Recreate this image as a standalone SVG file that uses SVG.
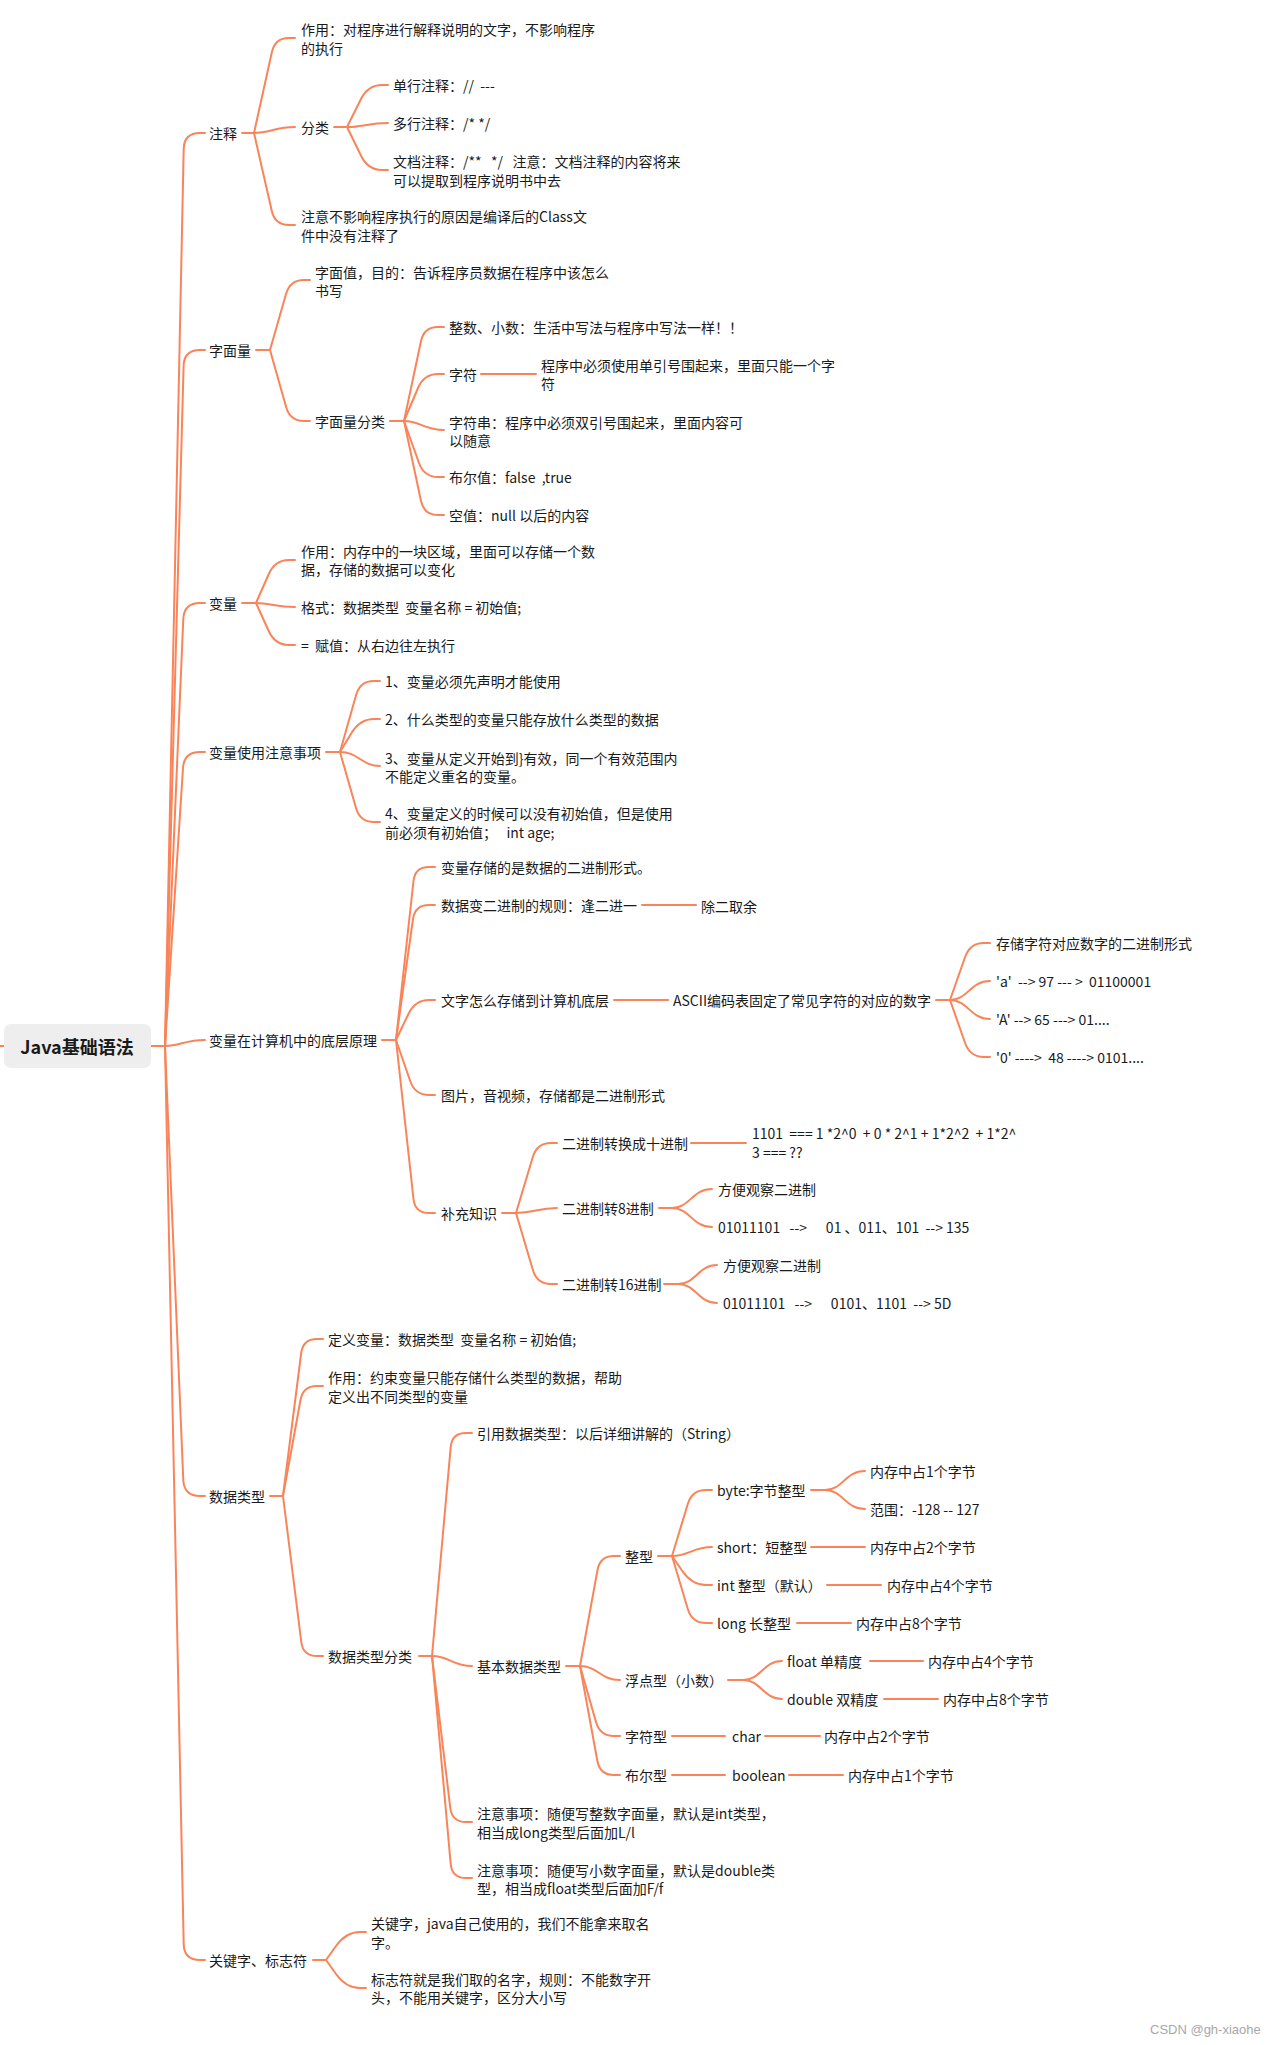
<svg xmlns="http://www.w3.org/2000/svg" width="1283" height="2045" viewBox="0 0 1283 2045">
<style>
.c{fill:none;stroke:#FA8459;stroke-width:2;stroke-linecap:round;stroke-linejoin:round}
text{font-family:"Noto Sans CJK SC","Microsoft YaHei",sans-serif;font-size:14px;fill:#1a1a1a;dominant-baseline:central;white-space:pre}
.root{font-size:18px;font-weight:bold;text-anchor:middle}
.wm{font-family:"Liberation Sans",Arial,sans-serif;font-size:13px;fill:#a8a8a8}
</style>
<rect width="1283" height="2045" fill="#ffffff"/>
<g id="connectors">
<path class="c" d="M0,1046 L4,1046 M151,1046 L165,1046"/>
<path class="c" d="M165,1046 L183.7,149 Q184,133 200,133 L205,133"/>
<path class="c" d="M165,1046 L183.6,366 Q184,350 200,350 L205,350"/>
<path class="c" d="M165,1046 L183.3,619 Q184,603 200,603 L205,603"/>
<path class="c" d="M165,1046 L183,768 Q184,752 200,752 L205,752"/>
<path class="c" d="M165,1046 C180,1046 185,1040 205,1040"/>
<path class="c" d="M165,1046 L183.3,1480 Q184,1496 200,1496 L205,1496"/>
<path class="c" d="M165,1046 L183.7,1944 Q184,1960 200,1960 L205,1960"/>
<!-- 注释 -->
<path class="c" d="M242,133 L254,133"/>
<path class="c" d="M254,133 L271.9,52 Q275,38 289,38 L295,38"/>
<path class="c" d="M254,133 C270,133 275,127 295,127"/>
<path class="c" d="M254,133 L271.8,211 Q275,225 289,225 L295,225"/>
<path class="c" d="M334,127 L347,127"/>
<path class="c" d="M347,127 L361,99 Q368,85 382,85 L388,85"/>
<path class="c" d="M347,127 C363,127 368,123 388,123"/>
<path class="c" d="M347,127 L361.2,156 Q368,170 382,170 L388,170"/>
<!-- 字面量 -->
<path class="c" d="M256,350 L270,350"/>
<path class="c" d="M270,350 L286,294 Q290,280 304,280 L310,280"/>
<path class="c" d="M270,350 L286.1,407 Q290,421 304,421 L310,421"/>
<path class="c" d="M390,421 L404,421"/>
<path class="c" d="M404,421 L421,341 Q424,327 438,327 L444,327"/>
<path class="c" d="M404,421 L418,388 Q424,374 438,374 L444,374"/>
<path class="c" d="M404,421 C420,421 424,430 444,430"/>
<path class="c" d="M404,421 L419,463 Q424,477 438,477 L444,477"/>
<path class="c" d="M404,421 L421,501 Q424,515 438,515 L444,515"/>
<path class="c" d="M481,374 L536,374"/>
<!-- 变量 -->
<path class="c" d="M242,603 L256,603"/>
<path class="c" d="M256,603 L268.8,574 Q275,560 289,560 L295,560"/>
<path class="c" d="M256,603 C270,603 275,607 295,607"/>
<path class="c" d="M256,603 L268.7,631 Q275,645 289,645 L295,645"/>
<!-- 变量使用注意事项 -->
<path class="c" d="M326,752 L340,752"/>
<path class="c" d="M340,752 L356.1,695 Q360,681 374,681 L380,681"/>
<path class="c" d="M340,752 L351.5,733 Q360,719 374,719 L380,719"/>
<path class="c" d="M340,752 C358,752 362,766 380,766"/>
<path class="c" d="M340,752 L356,808 Q360,822 374,822 L380,822"/>
<!-- 底层原理 -->
<path class="c" d="M382,1040 L396,1040"/>
<path class="c" d="M396,1040 L413.5,881 Q415,867 429,867 L435,867"/>
<path class="c" d="M396,1040 L413,919 Q415,905 429,905 L435,905"/>
<path class="c" d="M396,1040 L408.4,1014 Q415,1000 429,1000 L435,1000"/>
<path class="c" d="M396,1040 L410.2,1081 Q415,1095 429,1095 L435,1095"/>
<path class="c" d="M396,1040 L413.5,1199 Q415,1213 429,1213 L435,1213"/>
<path class="c" d="M642,905 L696,905"/>
<path class="c" d="M614,1000 L668,1000"/>
<path class="c" d="M936,1000 L950,1000"/>
<path class="c" d="M950,1000 L965.1,957 Q970,943 984,943 L990,943"/>
<path class="c" d="M950,1000 C968,1000 970,981 990,981"/>
<path class="c" d="M950,1000 C968,1000 970,1019 990,1019"/>
<path class="c" d="M950,1000 L965.1,1043 Q970,1057 984,1057 L990,1057"/>
<path class="c" d="M502,1213 L516,1213"/>
<path class="c" d="M516,1213 L532.8,1157 Q537,1143 551,1143 L557,1143"/>
<path class="c" d="M516,1213 C535,1213 537,1208 557,1208"/>
<path class="c" d="M516,1213 L532.9,1270 Q537,1284 551,1284 L557,1284"/>
<path class="c" d="M691,1143 L746,1143"/>
<path class="c" d="M659,1208 L672,1208"/>
<path class="c" d="M672,1208 C690,1208 692,1189 712,1189"/>
<path class="c" d="M672,1208 C690,1208 692,1227 712,1227"/>
<path class="c" d="M664,1284 L678,1284"/>
<path class="c" d="M678,1284 C696,1284 698,1265 717,1265"/>
<path class="c" d="M678,1284 C696,1284 698,1303 717,1303"/>
<!-- 数据类型 -->
<path class="c" d="M270,1496 L283,1496"/>
<path class="c" d="M283,1496 L301.2,1353 Q303,1339 317,1339 L323,1339"/>
<path class="c" d="M283,1496 L300.5,1400 Q303,1386 317,1386 L323,1386"/>
<path class="c" d="M283,1496 L301.3,1642 Q303,1656 317,1656 L323,1656"/>
<path class="c" d="M419,1656 L432,1656"/>
<path class="c" d="M432,1656 L450.7,1447 Q452,1433 466,1433 L472,1433"/>
<path class="c" d="M432,1656 C450,1656 452,1666 472,1666"/>
<path class="c" d="M432,1656 L450.3,1808 Q452,1822 466,1822 L472,1822"/>
<path class="c" d="M432,1656 L450.7,1864 Q452,1878 466,1878 L472,1878"/>
<path class="c" d="M566,1666 L580,1666"/>
<path class="c" d="M580,1666 L597.5,1570 Q600,1556 614,1556 L620,1556"/>
<path class="c" d="M580,1666 C598,1666 600,1680 620,1680"/>
<path class="c" d="M580,1666 L596,1722 Q600,1736 614,1736 L620,1736"/>
<path class="c" d="M580,1666 L597.4,1761 Q600,1775 614,1775 L620,1775"/>
<path class="c" d="M658,1556 L672,1556"/>
<path class="c" d="M672,1556 L687.8,1504 Q692,1490 706,1490 L712,1490"/>
<path class="c" d="M672,1556 C690,1556 692,1547 712,1547"/>
<path class="c" d="M672,1556 L682.3,1571 Q692,1585 706,1585 L712,1585"/>
<path class="c" d="M672,1556 L687.8,1609 Q692,1623 706,1623 L712,1623"/>
<path class="c" d="M811,1490 L825,1490"/>
<path class="c" d="M825,1490 C843,1490 845,1471 865,1471"/>
<path class="c" d="M825,1490 C843,1490 845,1509 865,1509"/>
<path class="c" d="M811,1547 L865,1547"/>
<path class="c" d="M827,1585 L881,1585"/>
<path class="c" d="M797,1623 L851,1623"/>
<path class="c" d="M728,1680 L743,1680"/>
<path class="c" d="M743,1680 C761,1680 763,1661 782,1661"/>
<path class="c" d="M743,1680 C761,1680 763,1699 782,1699"/>
<path class="c" d="M870,1661 L923,1661"/>
<path class="c" d="M884,1699 L938,1699"/>
<path class="c" d="M672,1736 L725,1736"/>
<path class="c" d="M765,1736 L820,1736"/>
<path class="c" d="M672,1775 L725,1775"/>
<path class="c" d="M789,1775 L843,1775"/>
<!-- 关键字 -->
<path class="c" d="M313,1960 L326,1960"/>
<path class="c" d="M326,1960 L336,1946 Q346,1932 360,1932 L366,1932"/>
<path class="c" d="M326,1960 L336,1974 Q346,1988 360,1988 L366,1988"/>
</g>

<g id="root">
<rect x="4" y="1024" width="147" height="44" rx="7" fill="#eeeeee"/>
<text class="root" x="77" y="1046">Java基础语法</text>
</g>

<g id="n-zhushi"><text x="209" y="133">注释</text></g>
<g id="n-zhushi-zuoyong"><text x="301" y="29">作用：对程序进行解释说明的文字，不影响程序<tspan x="301" dy="19">的执行</tspan></text></g>
<g id="n-fenlei"><text x="301" y="127">分类</text></g>
<g id="n-danhang"><text x="393" y="85">单行注释：//  ---</text></g>
<g id="n-duohang"><text x="393" y="123">多行注释：/* */</text></g>
<g id="n-wendang"><text x="393" y="161">文档注释：/**   */   注意：文档注释的内容将来<tspan x="393" dy="19">可以提取到程序说明书中去</tspan></text></g>
<g id="n-zhuyi"><text x="301" y="216">注意不影响程序执行的原因是编译后的Class文<tspan x="301" dy="19">件中没有注释了</tspan></text></g>

<g id="n-zimianliang"><text x="209" y="350">字面量</text></g>
<g id="n-zimianzhi"><text x="315" y="272">字面值，目的：告诉程序员数据在程序中该怎么<tspan x="315" dy="18">书写</tspan></text></g>
<g id="n-zmlfenlei"><text x="315" y="421">字面量分类</text></g>
<g id="n-zhengshu"><text x="449" y="327">整数、小数：生活中写法与程序中写法一样！！</text></g>
<g id="n-zifu"><text x="449" y="374">字符</text></g>
<g id="n-zifu-d"><text x="541" y="365">程序中必须使用单引号围起来，里面只能一个字<tspan x="541" dy="18">符</tspan></text></g>
<g id="n-zifuchuan"><text x="449" y="422">字符串：程序中必须双引号围起来，里面内容可<tspan x="449" dy="18">以随意</tspan></text></g>
<g id="n-buer"><text x="449" y="477">布尔值：false  ,true</text></g>
<g id="n-kong"><text x="449" y="515">空值：null 以后的内容</text></g>

<g id="n-bianliang"><text x="209" y="603">变量</text></g>
<g id="n-bl-zuoyong"><text x="301" y="551">作用：内存中的一块区域，里面可以存储一个数<tspan x="301" dy="18">据，存储的数据可以变化</tspan></text></g>
<g id="n-geshi"><text x="301" y="607">格式：数据类型  变量名称 = 初始值;</text></g>
<g id="n-fuzhi"><text x="301" y="645">=  赋值：从右边往左执行</text></g>

<g id="n-shiyong"><text x="209" y="752">变量使用注意事项</text></g>
<g id="n-s1"><text x="385" y="681">1、变量必须先声明才能使用</text></g>
<g id="n-s2"><text x="385" y="719">2、什么类型的变量只能存放什么类型的数据</text></g>
<g id="n-s3"><text x="385" y="758">3、变量从定义开始到}有效，同一个有效范围内<tspan x="385" dy="18">不能定义重名的变量。</tspan></text></g>
<g id="n-s4"><text x="385" y="813">4、变量定义的时候可以没有初始值，但是使用<tspan x="385" dy="19">前必须有初始值；   int age;</tspan></text></g>

<g id="n-diceng"><text x="209" y="1040">变量在计算机中的底层原理</text></g>
<g id="n-d1"><text x="441" y="867">变量存储的是数据的二进制形式。</text></g>
<g id="n-d2"><text x="441" y="905">数据变二进制的规则：逢二进一</text></g>
<g id="n-d2a"><text x="701" y="906">除二取余</text></g>
<g id="n-d3"><text x="441" y="1000">文字怎么存储到计算机底层</text></g>
<g id="n-ascii"><text x="673" y="1000">ASCII编码表固定了常见字符的对应的数字</text></g>
<g id="n-a1"><text x="996" y="943">存储字符对应数字的二进制形式</text></g>
<g id="n-a2"><text x="996" y="981">'a'  --&gt; 97 --- &gt;  01100001</text></g>
<g id="n-a3"><text x="996" y="1019">'A' --&gt; 65 ---&gt; 01....</text></g>
<g id="n-a4"><text x="996" y="1057">'0' ----&gt;  48 ----&gt; 0101....</text></g>
<g id="n-d4"><text x="441" y="1095">图片，音视频，存储都是二进制形式</text></g>
<g id="n-buchong"><text x="441" y="1213">补充知识</text></g>
<g id="n-b10"><text x="562" y="1143">二进制转换成十进制</text></g>
<g id="n-b10a"><text x="752" y="1133">1101  === 1 *2^0  + 0 * 2^1 + 1*2^2  + 1*2^<tspan x="752" dy="19">3 === ??</tspan></text></g>
<g id="n-b8"><text x="562" y="1208">二进制转8进制</text></g>
<g id="n-b8a"><text x="718" y="1189">方便观察二进制</text></g>
<g id="n-b8b"><text x="718" y="1227">01011101   --&gt;      01 、011、101  --&gt; 135</text></g>
<g id="n-b16"><text x="562" y="1284">二进制转16进制</text></g>
<g id="n-b16a"><text x="723" y="1265">方便观察二进制</text></g>
<g id="n-b16b"><text x="723" y="1303">01011101   --&gt;      0101、1101  --&gt; 5D</text></g>

<g id="n-shujuleixing"><text x="209" y="1496">数据类型</text></g>
<g id="n-dingyi"><text x="328" y="1339">定义变量：数据类型  变量名称 = 初始值;</text></g>
<g id="n-dt-zuoyong"><text x="328" y="1377">作用：约束变量只能存储什么类型的数据，帮助<tspan x="328" dy="19">定义出不同类型的变量</tspan></text></g>
<g id="n-dtfenlei"><text x="328" y="1656">数据类型分类</text></g>
<g id="n-yinyong"><text x="477" y="1433">引用数据类型：以后详细讲解的（String）</text></g>
<g id="n-jiben"><text x="477" y="1666">基本数据类型</text></g>
<g id="n-zhengxing"><text x="625" y="1556">整型</text></g>
<g id="n-byte"><text x="717" y="1490">byte:字节整型</text></g>
<g id="n-byte1"><text x="870" y="1471">内存中占1个字节</text></g>
<g id="n-byte2"><text x="870" y="1509">范围：-128 -- 127</text></g>
<g id="n-short"><text x="717" y="1547">short：短整型</text></g>
<g id="n-short1"><text x="870" y="1547">内存中占2个字节</text></g>
<g id="n-int"><text x="717" y="1585">int 整型（默认）</text></g>
<g id="n-int1"><text x="887" y="1585">内存中占4个字节</text></g>
<g id="n-long"><text x="717" y="1623">long 长整型</text></g>
<g id="n-long1"><text x="856" y="1623">内存中占8个字节</text></g>
<g id="n-fudian"><text x="625" y="1680">浮点型（小数）</text></g>
<g id="n-float"><text x="787" y="1661">float 单精度</text></g>
<g id="n-float1"><text x="928" y="1661">内存中占4个字节</text></g>
<g id="n-double"><text x="787" y="1699">double 双精度</text></g>
<g id="n-double1"><text x="943" y="1699">内存中占8个字节</text></g>
<g id="n-zifuxing"><text x="625" y="1736">字符型</text></g>
<g id="n-char"><text x="732" y="1736">char</text></g>
<g id="n-char1"><text x="824" y="1736">内存中占2个字节</text></g>
<g id="n-buerxing"><text x="625" y="1775">布尔型</text></g>
<g id="n-boolean"><text x="732" y="1775">boolean</text></g>
<g id="n-boolean1"><text x="848" y="1775">内存中占1个字节</text></g>
<g id="n-zy1"><text x="477" y="1813">注意事项：随便写整数字面量，默认是int类型，<tspan x="477" dy="19">相当成long类型后面加L/l</tspan></text></g>
<g id="n-zy2"><text x="477" y="1870">注意事项：随便写小数字面量，默认是double类<tspan x="477" dy="18">型，相当成float类型后面加F/f</tspan></text></g>

<g id="n-guanjianzi"><text x="209" y="1960">关键字、标志符</text></g>
<g id="n-gj1"><text x="371" y="1923">关键字，java自己使用的，我们不能拿来取名<tspan x="371" dy="19">字。</tspan></text></g>
<g id="n-gj2"><text x="371" y="1979">标志符就是我们取的名字，规则：不能数字开<tspan x="371" dy="18">头，不能用关键字，区分大小写</tspan></text></g>

<text class="wm" x="1150" y="2029">CSDN @gh-xiaohe</text>
</svg>
